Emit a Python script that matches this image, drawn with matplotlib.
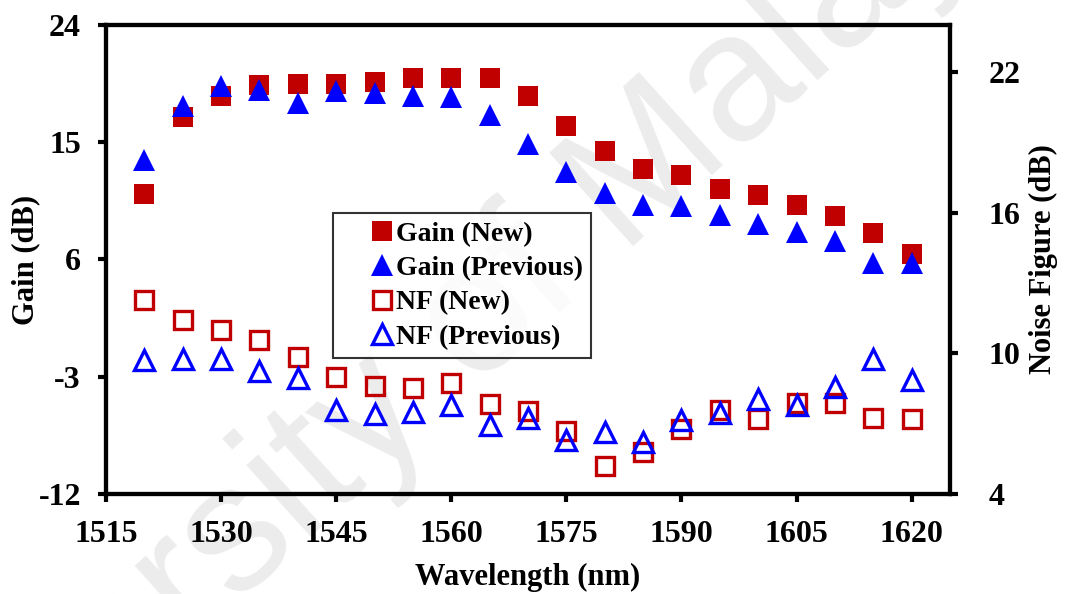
import matplotlib
matplotlib.use("Agg")
import matplotlib.pyplot as plt

plt.rcParams['font.family'] = ['Liberation Serif', 'DejaVu Serif']
plt.rcParams['font.weight'] = 'bold'
plt.rcParams['axes.unicode_minus'] = False

# 波长 (nm)
wavelength = [1520, 1525, 1530, 1535, 1540, 1545, 1550, 1555, 1560, 1565, 1570,
              1575, 1580, 1585, 1590, 1595, 1600, 1605, 1610, 1615, 1620]

# 增益 (dB), 左轴
gain_new = [11.0, 16.9, 18.55, 19.4, 19.5, 19.5, 19.6, 19.9, 19.9, 19.9, 18.55,
            16.25, 14.3, 12.95, 12.5, 11.4, 10.95, 10.2, 9.3, 8.0, 6.4]
gain_prev = [13.6, 17.8, 19.3, 19.0, 18.0, 18.9, 18.8, 18.55, 18.5, 17.1, 14.9,
             12.7, 11.1, 10.2, 10.1, 9.4, 8.7, 8.1, 7.4, 5.7, 5.7]

# 噪声系数 (dB), 右轴
nf_new = [12.25, 11.4, 11.0, 10.55, 9.85, 9.0, 8.6, 8.5, 8.75, 7.85, 7.55,
          6.7, 5.2, 5.8, 6.75, 7.6, 7.2, 7.9, 7.9, 7.25, 7.2]
nf_prev = [9.7, 9.75, 9.75, 9.25, 8.95, 7.6, 7.4, 7.5, 7.8, 6.95, 7.25,
           6.3, 6.65, 6.2, 7.15, 7.45, 8.05, 7.8, 8.55, 9.75, 8.85]

gain_ticks = [-12, -3, 6, 15, 24]
nf_ticks = [4, 10, 16, 22]
x_ticks = [1515, 1530, 1545, 1560, 1575, 1590, 1605, 1620]

red = '#C00000'
blue = '#0000FF'

fig = plt.figure(figsize=(10.65, 5.94), dpi=100)

# 水印 (放在最底层)
fig.text(0.394, 0.369, 'University of Malaya', fontsize=130, color='#ececec',
         family='Liberation Sans', weight='normal', rotation=42,
         ha='center', va='center', zorder=-5)

ax = fig.add_axes([0.0995, 0.1684, 0.7925, 0.7896])
ax.patch.set_alpha(0)
ax2 = ax.twinx()

h1, = ax.plot(wavelength, gain_new, 's', color=red, markersize=15,
              markeredgewidth=0, label='Gain (New)')
h2, = ax.plot(wavelength, gain_prev, '^', color=blue, markersize=16,
              markeredgewidth=0, label='Gain (Previous)')
h3, = ax2.plot(wavelength, nf_new, 's', markerfacecolor='none',
               markeredgecolor=red, markersize=13, markeredgewidth=2.4,
               label='NF (New)')
h4, = ax2.plot(wavelength, nf_prev, '^', markerfacecolor='none',
               markeredgecolor=blue, markersize=14, markeredgewidth=2.4,
               label='NF (Previous)')

ax.set_xlim(1515, 1625)
ax.set_ylim(-12, 24)
ax2.set_ylim(4, 24)
ax.set_xticks(x_ticks)
ax.set_yticks(gain_ticks)
ax2.set_yticks(nf_ticks)

for a in (ax, ax2):
    for s in a.spines.values():
        s.set_linewidth(3)
    a.tick_params(direction='out', width=3, length=6, labelsize=23)
ax.tick_params(axis='x', pad=13)
ax.tick_params(axis='y', pad=12)
ax2.tick_params(axis='y', pad=22)

ax.set_xlabel('Wavelength (nm)', fontsize=22, fontweight='bold', labelpad=10)
ax.set_ylabel('Gain (dB)', fontsize=22, fontweight='bold', labelpad=-1)
ax2.set_ylabel('Noise Figure (dB)', fontsize=22, fontweight='bold', labelpad=6)

leg = ax2.legend(handles=[h1, h2, h3, h4], loc='upper left',
                 bbox_to_anchor=(0.269, 0.599), fontsize=20, frameon=True,
                 fancybox=False, handlelength=2.9, handletextpad=-0.95,
                 borderpad=0.3, labelspacing=0.32, borderaxespad=0)
leg.get_frame().set_edgecolor('black')
leg.get_frame().set_linewidth(1.5)
leg.set_zorder(5)

fig.savefig('out.png', dpi=100)
